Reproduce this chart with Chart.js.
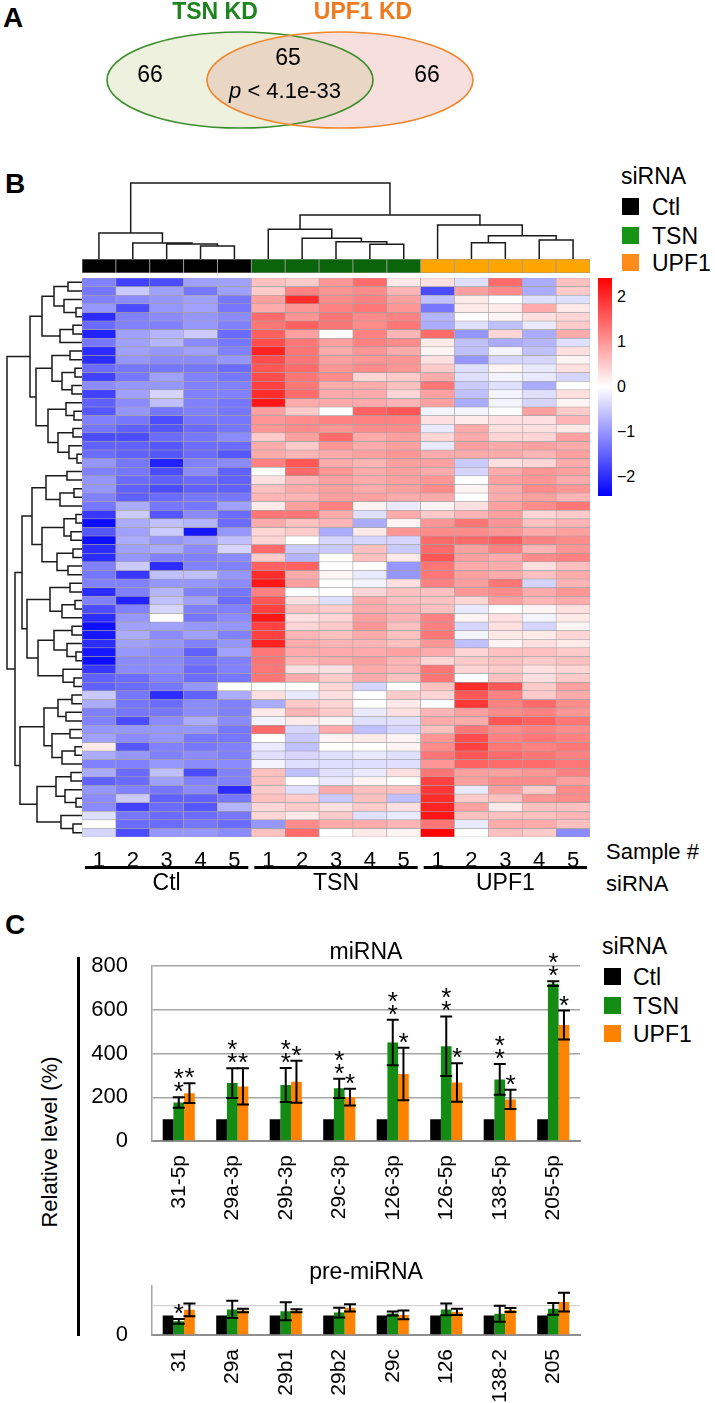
<!DOCTYPE html>
<html>
<head>
<meta charset="utf-8">
<script src="https://cdn.jsdelivr.net/npm/chart.js@4.4.1/dist/chart.umd.min.js"></script>
<style>
  html, body { margin: 0; padding: 0; background: #fff; }
  body { width: 715px; height: 1403px; position: relative; overflow: hidden;
         font-family: "Liberation Sans", Arial, Helvetica, sans-serif; color: #000; }
  canvas { position: absolute; }
  .t { position: absolute; white-space: nowrap; line-height: 1; transform: translateY(-50%); }
  .letter { font-weight: bold; font-size: 28px; }
  .box { position: absolute; width: 17px; height: 17px; }
</style>
</head>
<body>

<div class="t letter" style="left:3px; top:18px;">A</div>
<div class="t letter" style="left:5px; top:184px;">B</div>
<div class="t letter" style="left:5px; top:925px;">C</div>

<canvas id="venn" width="715" height="150" style="left:0; top:0;"></canvas>

<canvas id="colDendro" width="508" height="79" style="left:82px; top:180px;"></canvas>
<canvas id="annot" width="508" height="14" style="left:82px; top:259px;"></canvas>
<canvas id="rowDendro" width="77" height="559" style="left:5px; top:278px;"></canvas>
<canvas id="heat" width="508" height="624" style="left:82px; top:278px;"></canvas>

<!-- heatmap legend -->
<div class="t" style="left:621px; top:176px; font-size:23px;">siRNA</div>
<div class="box" style="left:622px; top:198px; background:#000;"></div>
<div class="box" style="left:622px; top:227px; background:#159415;"></div>
<div class="box" style="left:622px; top:254px; background:#ff8c1a;"></div>
<div class="t" style="left:652px; top:207px; font-size:23px;">Ctl</div>
<div class="t" style="left:652px; top:236px; font-size:23px;">TSN</div>
<div class="t" style="left:652px; top:263px; font-size:23px;">UPF1</div>

<div id="scaleBar" style="position:absolute; left:598px; top:278px; width:14px; height:218px;"></div>
<div class="t" style="left:617px; top:297px; font-size:16px;">2</div>
<div class="t" style="left:617px; top:342px; font-size:16px;">1</div>
<div class="t" style="left:617px; top:387px; font-size:16px;">0</div>
<div class="t" style="left:617px; top:432px; font-size:16px;">&minus;1</div>
<div class="t" style="left:617px; top:477px; font-size:16px;">&minus;2</div>

<div class="t" style="left:606px; top:852px; font-size:22px;">Sample #</div>
<div class="t" style="left:606px; top:884px; font-size:22px;">siRNA</div>

<!-- bar chart legend -->
<div class="t" style="left:602px; top:946px; font-size:23px;">siRNA</div>
<div class="box" style="left:604px; top:968px; background:#000;"></div>
<div class="box" style="left:604px; top:997px; background:#148c14;"></div>
<div class="box" style="left:604px; top:1025px; background:#ff8200;"></div>
<div class="t" style="left:633px; top:977px; font-size:23px;">Ctl</div>
<div class="t" style="left:633px; top:1006px; font-size:23px;">TSN</div>
<div class="t" style="left:633px; top:1034px; font-size:23px;">UPF1</div>

<div style="position:absolute; left:77px; top:957px; width:2.5px; height:379px; background:#000;"></div>
<div class="t" style="left:50px; top:1142px; font-size:22px; transform:translate(-50%,-50%) rotate(-90deg);">Relative level (%)</div>

<canvas id="mirna" width="530" height="302" style="left:60px; top:929px;"></canvas>
<canvas id="premirna" width="530" height="154" style="left:60px; top:1249px;"></canvas>

<script>
// ---------- data ----------
const vennSets = ['TSN KD', 'UPF1 KD'];
const vennCounts = [66, 65, 66];   // TSN only, both, UPF1 only
const vennP = '4.1e-33';

const sampleNums = ['1','2','3','4','5','1','2','3','4','5','1','2','3','4','5'];
const groupNames = ['Ctl', 'TSN', 'UPF1'];
const sampleGroup = [0,0,0,0,0, 1,1,1,1,1, 2,2,2,2,2];

// row z-scores, 65 miRNAs, 5 samples per siRNA
const ctlZ = [
  [-1.2,-1.8,-1.7,-0.9,-0.9],[-1.3,-0.5,-0.9,-1.3,-0.9],[-1.2,-1.1,-1.0,-0.9,-1.3],[-1.0,-1.7,-1.0,-0.9,-1.3],
  [-2.0,-1.2,-1.1,-1.0,-1.1],[-1.4,-1.2,-1.2,-1.0,-1.2],[-2.1,-0.9,-0.7,-0.5,-1.4],[-1.3,-0.9,-0.7,-1.1,-1.3],
  [-2.0,-0.9,-1.0,-0.9,-1.2],[-2.0,-1.0,-1.1,-1.1,-1.0],[-1.4,-1.3,-1.3,-1.3,-1.4],[-1.8,-1.3,-0.9,-1.2,-1.3],
  [-1.1,-1.0,-1.0,-1.2,-1.2],[-1.8,-0.9,-0.4,-1.2,-1.2],[-1.5,-1.1,-0.6,-1.2,-1.3],[-1.6,-1.0,-1.3,-1.2,-1.3],
  [-1.2,-1.3,-1.7,-1.3,-1.3],[-1.3,-1.5,-1.6,-1.4,-1.3],[-1.7,-1.7,-1.4,-1.3,-1.1],[-1.5,-1.5,-1.6,-1.4,-1.4],
  [-1.4,-1.5,-1.6,-1.4,-1.6],[-1.0,-1.3,-2.1,-1.2,-1.1],[-1.2,-1.3,-1.7,-1.1,-1.5],[-1.0,-1.4,-1.5,-1.4,-1.5],
  [-1.0,-1.5,-1.7,-1.5,-1.5],[-1.2,-1.5,-1.4,-1.3,-1.3],[-1.3,-0.8,-1.3,-1.3,-0.9],[-1.9,-0.5,-1.6,-1.1,-1.4],
  [-2.3,-0.8,-0.6,-0.7,-1.4],[-1.6,-0.9,-0.5,-2.2,-1.0],[-2.3,-0.8,-1.0,-0.9,-0.6],[-2.0,-0.9,-0.8,-1.1,-0.4],
  [-2.0,-1.0,-1.2,-1.2,-1.1],[-1.2,-0.5,-2.0,-1.2,-1.2],[-1.3,-1.9,-0.6,-0.6,-1.0],[-1.2,-1.2,-1.0,-1.0,-1.1],
  [-2.0,-1.2,-0.7,-1.2,-1.3],[-1.2,-2.1,-0.6,-0.9,-1.4],[-1.7,-1.2,-0.4,-1.2,-1.2],[-2.0,-1.0, 0.0,-1.3,-1.1],
  [-2.3,-0.9,-0.9,-1.0,-1.0],[-2.2,-0.8,-1.1,-0.9,-1.2],[-2.0,-0.9,-1.0,-1.2,-1.0],[-2.2,-1.0,-1.1,-1.5,-0.9],
  [-2.3,-1.1,-1.1,-1.3,-1.2],[-1.9,-1.1,-1.1,-1.4,-1.2],[-1.5,-1.4,-1.2,-1.4,-1.3],[-1.5,-1.4,-1.3,-1.0, 0.0],
  [-0.5,-1.3,-2.0,-1.5,-0.8],[-0.8,-1.3,-1.4,-1.1,-1.2],[-1.2,-1.3,-1.3,-1.1,-1.2],[-1.2,-1.7,-1.1,-0.8,-1.1],
  [-1.0,-1.0,-1.0,-1.0,-1.3],[-0.9,-1.1,-1.0,-1.3,-1.3],[ 0.2,-1.6,-1.2,-1.3,-1.2],[-0.8,-1.0,-1.2,-1.1,-1.2],
  [-1.2,-1.2,-1.0,-1.1,-1.1],[-0.8,-1.4,-0.6,-1.7,-1.2],[-1.5,-1.4,-0.9,-1.2,-1.2],[-1.0,-1.2,-1.3,-1.1,-2.0],
  [-1.1,-0.5,-1.5,-1.5,-1.3],[-1.1,-1.8,-1.4,-1.6,-0.7],[-0.3,-1.3,-1.4,-1.4,-1.3],[ 0.0,-1.4,-1.4,-1.3,-1.4],
  [-0.4,-1.7,-1.0,-1.0,-1.1]
];
const tsnZ = [
  [0.6,0.5,1.0,1.4,0.2],[0.5,1.2,1.0,1.1,0.7],[0.9,2.0,1.1,1.2,0.9],[0.8,1.0,1.2,1.3,1.0],
  [1.4,1.0,1.3,1.1,1.2],[1.3,1.5,1.3,1.1,1.3],[1.5,0.9,0.0,1.2,0.7],[1.7,1.3,0.9,1.2,1.1],
  [2.1,1.3,0.8,1.0,0.8],[1.7,1.3,0.9,1.0,1.0],[1.6,1.4,1.0,1.1,1.0],[1.7,1.3,1.1,0.4,0.5],
  [1.8,1.3,0.8,0.8,0.6],[2.0,1.4,0.8,0.8,0.4],[2.2,0.8,0.8,0.8,0.7],[0.9,0.5,0.0,1.5,1.6],
  [1.0,1.1,1.2,1.2,1.2],[1.0,1.1,1.0,1.1,1.1],[0.5,0.9,1.4,0.8,0.9],[0.8,0.5,1.0,0.8,0.9],
  [0.8,0.7,0.8,0.9,1.0],[1.2,1.6,0.8,0.7,0.9],[0.0,1.4,1.0,0.8,0.9],[0.3,0.7,0.9,0.8,0.9],
  [0.6,0.8,0.9,0.8,0.9],[0.7,0.7,0.9,0.9,0.8],[0.2,0.9,1.2,0.1,-0.2],[1.3,1.3,0.8,-0.3,0.8],
  [0.8,0.6,0.7,-0.8,0.1],[0.4,0.5,-0.8,0.2,1.0],[0.4,0.0,-0.4,-0.4,-0.4],[1.4,-0.5,-0.5,0.6,-0.5],
  [0.5,-0.7,0.0,0.6,0.2],[1.5,1.5,0.0,0.0,-1.0],[2.0,0.8,0.1,-0.2,-1.0],[2.2,0.9,0.0,-0.1,0.3],
  [1.2,0.0,0.0,0.4,0.6],[1.6,0.3,-0.3,0.8,0.6],[1.8,0.6,0.5,0.8,0.7],[2.2,0.3,0.4,0.9,0.7],
  [1.8,0.4,0.5,1.0,0.6],[1.8,0.7,0.6,0.8,0.6],[2.1,0.8,0.7,0.7,0.6],[1.3,0.8,0.8,0.8,0.9],
  [1.3,0.7,0.8,0.9,0.7],[1.3,0.3,0.3,0.8,0.7],[1.3,0.8,0.5,0.8,0.6],[0.0,0.0,0.4,-0.4,0.0],
  [0.3,-0.2,0.3,0.0,0.5],[-0.8,0.5,0.4,0.0,0.2],[0.2,0.7,0.5,-0.2,0.3],[-0.1,0.2,0.1,-0.3,-0.3],
  [1.4,-0.4,0.8,-0.6,-0.4],[0.0,-0.5,0.1,0.2,0.1],[-0.2,-0.6,0.0,0.0,0.1],[-0.3,-0.4,-0.3,-0.2,-0.3],
  [-0.1,-0.3,-0.3,-0.3,-0.3],[0.6,-0.6,-0.3,-0.2,0.3],[0.6,0.0,-0.2,0.1,0.0],[0.5,-0.3,0.8,0.6,0.6],
  [0.6,0.5,-0.5,0.6,-0.6],[0.4,0.5,0.3,0.5,0.3],[0.4,0.2,0.5,-0.3,-0.2],[-1.0,1.1,0.8,0.8,0.7],
  [0.6,1.4,0.0,0.2,0.1]
];
const upfZ = [
  [0.3,-0.3,1.4,-0.8,0.6],[-1.7,0.9,1.1,-0.8,0.5],[-0.6,0.2,0.0,-0.3,-0.3],[-1.3,0.2,0.2,0.8,0.2],
  [-0.7,0.0,0.1,0.3,0.4],[-0.8,-0.3,-0.6,-0.2,0.5],[1.4,-1.0,0.4,-0.8,0.8],[0.2,-0.6,-0.8,-0.7,-0.3],
  [0.1,-0.6,-0.1,-0.6,0.3],[0.3,-1.0,-0.4,-0.4,0.1],[0.5,-0.3,0.1,-0.2,0.3],[0.8,-0.3,-0.1,-0.2,-0.4],
  [1.3,-0.5,-0.3,-0.8,0.0],[0.9,-0.6,-0.1,-0.3,0.3],[0.9,-0.8,-0.1,-0.4,0.1],[-0.1,-0.1,0.0,0.9,0.5],
  [0.3,0.2,0.3,0.3,0.7],[-0.2,0.8,0.3,0.3,0.2],[0.4,0.8,0.4,0.4,0.9],[-0.2,0.9,0.8,0.9,0.8],
  [0.8,0.8,0.8,0.7,0.9],[0.9,-0.5,0.3,0.4,0.8],[0.8,-0.4,0.8,1.0,0.9],[1.0,0.0,0.9,1.0,0.8],
  [1.1,0.1,0.8,1.1,1.0],[0.8,0.0,0.8,0.9,0.7],[0.1,0.3,0.9,1.1,1.3],[0.5,0.7,0.9,0.4,0.5],
  [1.0,1.3,1.0,0.6,0.7],[1.1,1.1,1.0,0.8,0.9],[1.4,1.4,1.5,1.2,1.1],[1.4,0.9,1.2,0.7,1.0],
  [1.6,0.9,0.8,1.1,1.2],[1.3,0.8,0.8,0.3,0.6],[1.3,0.9,0.8,0.6,0.8],[1.2,0.9,1.3,-0.4,0.7],
  [0.6,1.0,1.1,0.8,1.0],[0.6,0.4,0.9,0.7,0.8],[0.6,-0.2,0.0,0.1,0.3],[1.2,0.1,0.3,-0.1,0.2],
  [1.2,-0.4,0.3,-0.4,0.1],[1.3,-0.1,0.2,0.2,0.4],[1.0,-0.6,0.1,0.3,0.2],[0.8,0.4,0.6,0.6,0.5],
  [0.4,0.5,0.6,0.5,0.6],[1.3,0.4,0.5,0.3,0.4],[1.3,0.0,0.6,0.3,0.5],[0.6,2.0,1.6,0.5,0.9],
  [0.4,1.6,1.2,0.5,0.8],[0.0,1.9,1.2,1.4,1.1],[0.7,0.9,1.1,1.2,1.0],[0.8,0.8,1.6,1.5,1.3],
  [0.6,1.3,1.1,1.2,1.1],[1.0,1.7,1.2,1.3,1.2],[1.1,1.8,1.3,1.2,1.3],[1.3,1.6,1.4,1.3,1.2],
  [1.0,1.5,1.4,1.4,1.3],[1.3,0.9,0.9,1.0,1.2],[1.8,0.9,1.1,1.1,0.9],[1.9,-0.2,0.9,0.5,1.1],
  [2.0,0.5,0.6,1.0,1.1],[2.1,0.9,0.2,0.6,0.6],[2.2,0.6,0.6,0.6,0.7],[1.3,-0.2,0.8,0.8,0.6],
  [2.4,0.0,0.6,0.5,-1.1]
];

// dendrograms: [height, left, right], leaves are sample / row indices
const colTree = [76,
  [26, 0, [16, 1, [15, 2, [13, 3, 4]]]],
  [44, [29.7, 5, [20.7, 6, [17.3, 7, [14.7, 8, 9]]]],
       [34, 10, [23.3, [16.3, 11, 12], [19, 13, 14]]]]];

const rowTreeA = [52,
  [40, [28, [14, 0, 1], [18, 2, [6, 3, 4]]], [22, [9, 5, 6], 7]],
  [46, [30, [12, 8, 9], [20, [7, 10, 11], [10, 12, 13]]],
       [34, [16, 14, [8, 15, 16]], [24, [9, 17, 18], [13, 19, [5, 20, 21]]]]]];
const rowTreeB = [67,
  [60, [50, [36, [15, 22, 23], [22, [8, 24, 25], 26]], [40, [18, [6, 27, 28], [11, 29, 30]], [25, [9, 31, 32], [14, 33, 34]]]],
       [55, [32, [12, 35, 36], [20, [7, 37, 38], 39]], [44, [28, [10, 40, 41], [15, 42, [6, 43, 44]]], [19, 45, [8, 46, 47]]]]],
  [62, [38, [24, [10, 48, 49], [16, 50, 51]], [30, [12, 52, 53], [20, [7, 54, 55], 56]]],
       [45, [26, [11, 57, 58], [17, 59, [6, 60, 61]]], [21, 62, [9, 63, 64]]]]];
const rowTree = [75, rowTreeA, rowTreeB];

// panel C, relative level (%)
const miLabels = ['31-5p', '29a-3p', '29b-3p', '29c-3p', '126-3p', '126-5p', '138-5p', '205-5p'];
const miCtl = [100, 100, 100, 100, 100, 100, 100, 100];
const miTsn = [176, 265, 256, 241, 451, 434, 282, 720];
const miTsnErr = [24, 68, 78, 44, 104, 136, 70, 11];
const miTsnStars = [2, 2, 2, 2, 2, 2, 2, 2];
const miUpf = [219, 250, 271, 201, 307, 268, 190, 531];
const miUpfErr = [45, 83, 96, 38, 120, 88, 44, 66];
const miUpfStars = [1, 1, 1, 1, 1, 1, 1, 1];

const preLabels = ['31', '29a', '29b1', '29b2', '29c', '126', '138-2', '205'];
const preCtl = [100, 100, 100, 100, 100, 100, 100, 100];
const preTsn = [70, 131, 122, 115, 110, 131, 109, 134];
const preTsnErr = [12, 44, 46, 25, 10, 30, 41, 30];
const preTsnStars = [1, 0, 0, 0, 0, 0, 0, 0];
const preUpf = [129, 125, 124, 139, 103, 118, 128, 169];
const preUpfErr = [33, 9, 8, 19, 22, 16, 10, 48];
const preUpfStars = [0, 0, 0, 0, 0, 0, 0, 0];

// ---------- common ----------
const FONT = '"Liberation Sans", Arial, Helvetica, sans-serif';
Chart.defaults.font.family = FONT;
Chart.defaults.color = '#000';

const zMax = 2.42;
function heatColor(v) {
  const t = Math.max(-1, Math.min(1, v / zMax));
  if (t >= 0) {
    const c = Math.round(255 * (1 - t));
    return 'rgb(255,' + c + ',' + c + ')';
  }
  const c = Math.round(255 * (1 + t));
  return 'rgb(' + c + ',' + c + ',255)';
}
document.getElementById('scaleBar').style.background =
  'linear-gradient(to bottom,' + heatColor(zMax) + ',' + heatColor(0) + ',' + heatColor(-zMax) + ')';

const baseOpts = {
  responsive: false,
  animation: false,
  devicePixelRatio: 1,
  events: [],
  layout: { padding: 0 },
  plugins: { legend: { display: false }, tooltip: { enabled: false } }
};

// ---------- A: venn ----------
const vennShapes = [
  { cx: 240, cy: 80, rx: 133, ry: 48, fill: '#edf1de', stroke: '#3b8e2b' },
  { cx: 340, cy: 80, rx: 133, ry: 48, fill: '#f7dfde', stroke: '#f0862a' }
];
const vennOverlapFill = '#e9d6c5';

const vennPlugin = {
  id: 'vennPlugin',
  afterDraw(chart) {
    const ctx = chart.ctx, xs = chart.scales.x, ys = chart.scales.y;
    const px = v => xs.getPixelForValue(v), py = v => ys.getPixelForValue(v);
    function path(e) {
      ctx.beginPath();
      ctx.ellipse(px(e.cx), py(e.cy), px(e.cx + e.rx) - px(e.cx), Math.abs(py(e.cy + e.ry) - py(e.cy)), 0, 0, Math.PI * 2);
    }
    ctx.save();
    vennShapes.forEach(e => { path(e); ctx.fillStyle = e.fill; ctx.fill(); });
    ctx.save();
    path(vennShapes[0]); ctx.clip();
    path(vennShapes[1]); ctx.fillStyle = vennOverlapFill; ctx.fill();
    ctx.restore();
    ctx.lineWidth = 1.6;
    vennShapes.forEach(e => { path(e); ctx.strokeStyle = e.stroke; ctx.stroke(); });

    // set names
    ctx.font = 'bold 23px ' + FONT;
    ctx.textAlign = 'center';
    ctx.textBaseline = 'middle';
    ctx.fillStyle = '#1e841e';
    ctx.fillText(vennSets[0], px(215), py(13));
    ctx.fillStyle = '#f07a20';
    ctx.fillText(vennSets[1], px(363), py(13));

    // counts
    ctx.fillStyle = '#000';
    ctx.font = '23px ' + FONT;
    ctx.fillText(String(vennCounts[0]), px(150), py(76));
    ctx.fillText(String(vennCounts[1]), px(288), py(59));
    ctx.fillText(String(vennCounts[2]), px(427), py(76));
    const rest = ' < ' + vennP;
    ctx.font = '22px ' + FONT;
    const wRest = ctx.measureText(rest).width;
    ctx.font = 'italic 22px ' + FONT;
    const wP = ctx.measureText('p').width;
    const x0 = px(285) - (wP + wRest) / 2;
    ctx.textAlign = 'left';
    ctx.fillText('p', x0, py(92));
    ctx.font = '22px ' + FONT;
    ctx.fillText(rest, x0 + wP, py(92));
    ctx.restore();
  }
};

new Chart(document.getElementById('venn'), {
  type: 'scatter',
  data: { datasets: [] },
  options: Object.assign({}, baseOpts, {
    scales: {
      x: { display: false, min: 0, max: 715 },
      y: { display: false, min: 0, max: 150, reverse: true }
    }
  }),
  plugins: [vennPlugin]
});

// ---------- B: heatmap ----------
function treeSegments(node, leafPos, out) {
  if (typeof node === 'number') return { pos: leafPos(node), h: 0 };
  const l = treeSegments(node[1], leafPos, out);
  const r = treeSegments(node[2], leafPos, out);
  out.push([l.pos, l.h], [l.pos, node[0]], [r.pos, node[0]], [r.pos, r.h], [NaN, NaN]);
  return { pos: (l.pos + r.pos) / 2, h: node[0] };
}

const colSegs = [];
treeSegments(colTree, i => i, colSegs);
new Chart(document.getElementById('colDendro'), {
  type: 'scatter',
  data: {
    datasets: [{
      data: colSegs.map(p => ({ x: p[0], y: p[1] })),
      showLine: true, spanGaps: false, pointRadius: 0,
      borderColor: '#1a1a1a', borderWidth: 1.5, clip: false
    }]
  },
  options: Object.assign({}, baseOpts, {
    scales: {
      x: { display: false, min: -0.5, max: 14.5 },
      y: { display: false, min: 0, max: 79 }
    }
  })
});

const rowSegs = [];
treeSegments(rowTree, r => r + 0.5, rowSegs);
new Chart(document.getElementById('rowDendro'), {
  type: 'scatter',
  data: {
    datasets: [{
      data: rowSegs.map(p => ({ x: p[1], y: p[0] })),
      showLine: true, spanGaps: false, pointRadius: 0,
      borderColor: '#1a1a1a', borderWidth: 1.5, clip: false
    }]
  },
  options: Object.assign({}, baseOpts, {
    scales: {
      x: { display: false, min: 0, max: 77, reverse: true },
      y: { display: false, min: 0, max: 65, reverse: true }
    }
  })
});

const annotColors = ['#000000', '#0a640a', '#ffa500'];
new Chart(document.getElementById('annot'), {
  type: 'bar',
  data: {
    labels: sampleNums,
    datasets: [{
      data: sampleGroup.map(() => [0, 1]),
      backgroundColor: sampleGroup.map(g => annotColors[g]),
      borderColor: '#9a9a9a', borderWidth: 0.8, borderSkipped: false
    }]
  },
  options: Object.assign({}, baseOpts, {
    barPercentage: 1, categoryPercentage: 1,
    scales: {
      x: { display: false },
      y: { display: false, min: 0, max: 1 }
    }
  })
});

const heatRows = ctlZ.map((r, i) => r.concat(tsnZ[i], upfZ[i]));

const groupAxis = {
  id: 'groupAxis',
  afterDraw(chart) {
    const ctx = chart.ctx, xs = chart.scales.x, bottom = chart.chartArea.bottom;
    const w = xs.getPixelForValue(1) - xs.getPixelForValue(0);
    ctx.save();
    ctx.fillStyle = '#000';
    ctx.font = '23px ' + FONT;
    ctx.textAlign = 'center';
    ctx.textBaseline = 'middle';
    groupNames.forEach((name, g) => {
      const cols = [];
      sampleGroup.forEach((s, i) => { if (s === g) cols.push(i); });
      const x0 = xs.getPixelForValue(cols[0]) - w / 2 + 3;
      const x1 = xs.getPixelForValue(cols[cols.length - 1]) + w / 2 - 3;
      ctx.fillRect(x0, bottom + 29, x1 - x0, 3);
      ctx.fillText(name, (x0 + x1) / 2, bottom + 47);
    });
    ctx.restore();
  }
};

new Chart(document.getElementById('heat'), {
  type: 'bar',
  data: {
    labels: sampleNums,
    datasets: heatRows.map((row, r) => ({
      data: row.map(() => [r, r + 1]),
      backgroundColor: row.map(heatColor),
      borderColor: '#a4a4a4', borderWidth: 0.6, borderSkipped: false
    }))
  },
  options: Object.assign({}, baseOpts, {
    grouped: false, barPercentage: 1, categoryPercentage: 1,
    scales: {
      x: {
        grid: { display: false }, border: { display: false },
        ticks: { font: { size: 22 }, color: '#000', padding: 3, autoSkip: false, maxRotation: 0 },
        afterFit(scale) { scale.height = 65; }
      },
      y: { display: false, min: 0, max: 65, reverse: true }
    }
  }),
  plugins: [groupAxis]
});

// ---------- C: bar charts ----------
const errorBars = {
  id: 'errorBars',
  afterDatasetsDraw(chart) {
    const ctx = chart.ctx, ys = chart.scales.y;
    chart.data.datasets.forEach((ds, di) => {
      if (!ds.err) return;
      chart.getDatasetMeta(di).data.forEach((bar, i) => {
        const top = ys.getPixelForValue(ds.data[i] + ds.err[i]);
        const bot = ys.getPixelForValue(ds.data[i] - ds.err[i]);
        ctx.save();
        ctx.strokeStyle = '#000';
        ctx.lineWidth = 2;
        ctx.beginPath();
        ctx.moveTo(bar.x, top); ctx.lineTo(bar.x, bot);
        ctx.moveTo(bar.x - 6, top); ctx.lineTo(bar.x + 6, top);
        ctx.moveTo(bar.x - 6, bot); ctx.lineTo(bar.x + 6, bot);
        ctx.stroke();
        ctx.fillStyle = '#000';
        ctx.font = '26px ' + FONT;
        ctx.textAlign = 'center';
        ctx.textBaseline = 'alphabetic';
        for (let k = 0; k < ds.stars[i]; k++) {
          ctx.fillText('*', bar.x, top - 12 - 13 * k + 15);
        }
        ctx.restore();
      });
    });
  }
};

function barChart(id, title, labels, ctl, tsn, tsnErr, tsnStars, upf, upfErr, upfStars, max, step, labelled, major, xHeight) {
  return new Chart(document.getElementById(id), {
    type: 'bar',
    data: {
      labels: labels,
      datasets: [
        { label: 'Ctl', data: ctl, backgroundColor: '#000000' },
        { label: 'TSN', data: tsn, backgroundColor: '#148c14', err: tsnErr, stars: tsnStars },
        { label: 'UPF1', data: upf, backgroundColor: '#ff8200', err: upfErr, stars: upfStars }
      ]
    },
    options: Object.assign({}, baseOpts, {
      layout: { padding: { top: 0, right: 10, bottom: 0, left: 0 } },
      barPercentage: 1,
      categoryPercentage: 0.6,
      plugins: {
        legend: { display: false },
        tooltip: { enabled: false },
        title: {
          display: true, text: title, fullSize: false,
          font: { size: 23, weight: 'normal' }, color: '#000',
          padding: { top: 2, bottom: 0 }
        }
      },
      scales: {
        x: {
          grid: { display: false },
          border: { display: true, color: '#8f8f8f', width: 2 },
          ticks: { font: { size: 21 }, color: '#000', minRotation: 90, maxRotation: 90, autoSkip: false, padding: 6 },
          afterFit(scale) { scale.height = xHeight; }
        },
        y: {
          min: 0, max: max,
          ticks: {
            stepSize: step, font: { size: 22 }, color: '#000', padding: 24,
            callback: v => labelled.includes(v) ? String(v) : ''
          },
          grid: {
            drawTicks: false,
            color: c => (c.tick && (c.tick.value % major === 0 || c.tick.value === max)) ? '#a6a6a6' : '#d2d2d2',
            lineWidth: c => (c.tick && (c.tick.value % major === 0 || c.tick.value === max)) ? 1.6 : 1.2
          },
          border: { display: true, color: '#a6a6a6', width: 1.5 },
          afterFit(scale) { scale.width = 92; }
        }
      }
    }),
    plugins: [errorBars]
  });
}

barChart('mirna', 'miRNA', miLabels, miCtl, miTsn, miTsnErr, miTsnStars, miUpf, miUpfErr, miUpfStars,
  800, 100, [0, 200, 400, 600, 800], 200, 90);
barChart('premirna', 'pre-miRNA', preLabels, preCtl, preTsn, preTsnErr, preTsnStars, preUpf, preUpfErr, preUpfStars,
  250, 50, [0, 200], 100, 68);
</script>
</body>
</html>
